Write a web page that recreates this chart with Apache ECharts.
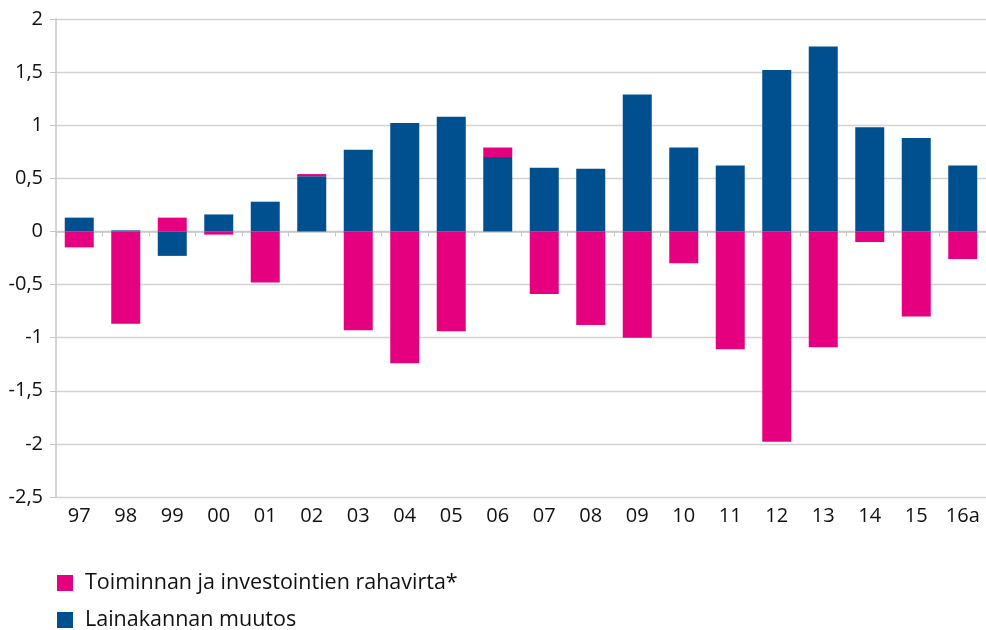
<!DOCTYPE html>
<html>
<head>
<meta charset="utf-8">
<script src="https://cdn.jsdelivr.net/npm/echarts@6/dist/echarts.min.js"></script>
<style>
html,body{margin:0;padding:0;background:#fff;}
#chart{width:986px;height:630px;}
</style>
</head>
<body>
<div id="chart"></div>
<script>
const categories = ['97','98','99','00','01','02','03','04','05','06','07','08','09','10','11','12','13','14','15','16a'];
const cashFlow = [-0.15,-0.87,0.13,-0.03,-0.48,0.02,-0.93,-1.24,-0.94,0.09,-0.59,-0.88,-1.00,-0.30,-1.11,-1.98,-1.09,-0.10,-0.80,-0.26];
const loanChange = [0.13,0.01,-0.23,0.16,0.28,0.52,0.77,1.02,1.08,0.70,0.60,0.59,1.29,0.79,0.62,1.52,1.74,0.98,0.88,0.62];
const seriesNames = ['Toiminnan ja investointien rahavirta*','Lainakannan muutos'];
const yTicks = {min:-2.5, max:2, interval:0.5};

const FONT = 'Open Sans';
const TXT = '#111111';
const GRID = '#d3d3d3';
const AX = '#c6c6c6';
const PINK = '#e4007f';
const BLUE = '#00508f';

function legendFor(name, top){
  return {
    orient:'horizontal', left:57, top:top, padding:0,
    itemWidth:16, itemHeight:16,
    icon:'rect',
    data:[name],
    textStyle:{fontFamily:FONT, fontSize:21.5, color:TXT, padding:[0,0,0,7]}
  };
}

const chart = echarts.init(document.getElementById('chart'));
chart.setOption({
  animation:false,
  backgroundColor:'#ffffff',
  textStyle:{fontFamily:FONT},
  grid:{left:56, top:19, width:931, bottom:133, containLabel:false},
  legend:[legendFor(seriesNames[0], 572), legendFor(seriesNames[1], 609)],
  xAxis:[{
    type:'category', data:categories, position:'bottom',
    axisLine:{show:false, onZero:false},
    axisTick:{show:false},
    splitLine:{show:false},
    axisLabel:{fontFamily:FONT, fontSize:20, color:TXT, margin:9}
  },{
    type:'category', data:categories, position:'bottom',
    axisLine:{show:true, onZero:true, lineStyle:{color:AX, width:1.5}},
    axisTick:{show:true, length:5, lineStyle:{color:AX, width:1}},
    axisLabel:{show:false},
    splitLine:{show:false}
  }],
  yAxis:{
    type:'value', min:yTicks.min, max:yTicks.max, interval:yTicks.interval,
    axisLine:{show:true, lineStyle:{color:AX, width:1.5}},
    axisTick:{show:true, length:6, lineStyle:{color:AX, width:1}},
    splitLine:{lineStyle:{color:GRID, width:1.3}},
    axisLabel:{fontFamily:FONT, fontSize:20, color:TXT, margin:13,
      formatter:v=>String(v).replace('.',',')}
  },
  series:[{
    name:seriesNames[1], type:'bar', stack:'s', xAxisIndex:0,
    data:loanChange, barWidth:29,
    itemStyle:{color:BLUE}
  },{
    name:seriesNames[0], type:'bar', stack:'s', xAxisIndex:0,
    data:cashFlow, barWidth:29,
    itemStyle:{color:PINK}
  }]
});
</script>
</body>
</html>
